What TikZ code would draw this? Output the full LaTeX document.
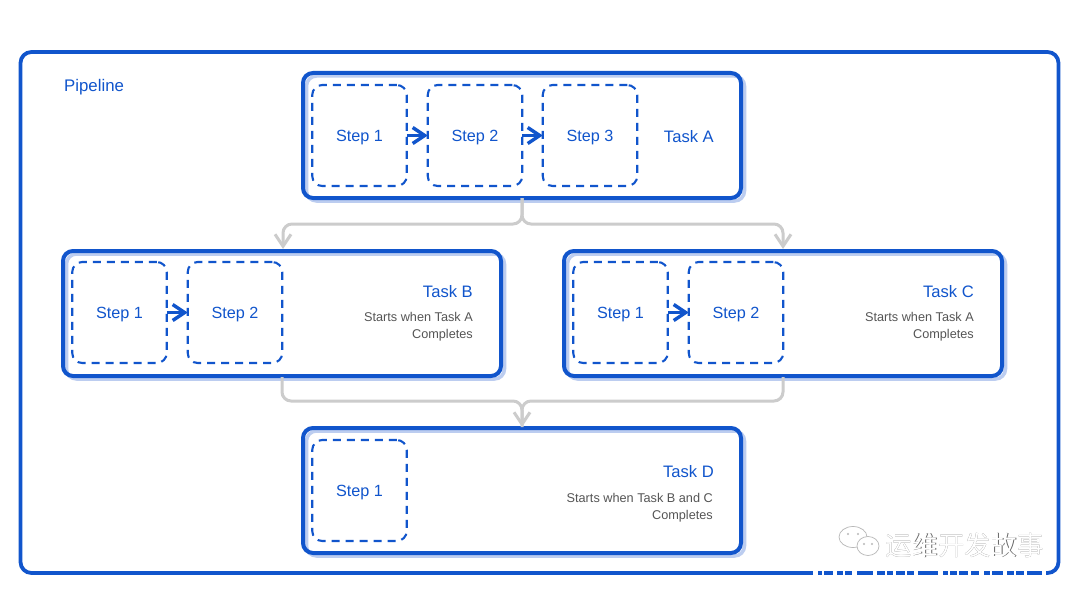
\documentclass[tikz,border=0pt]{standalone}
\usepackage{fontspec}
\setmainfont{Liberation Sans}
\newfontfamily\cjk{Noto Sans CJK SC}
\usetikzlibrary{arrows.meta,calc}
\definecolor{mainblue}{HTML}{1155CC}
\definecolor{softblue}{HTML}{BCCDF0}
\definecolor{linegray}{HTML}{CCCCCC}
\definecolor{smalltext}{HTML}{555555}
\tikzset{
  x=1pt,y=-1pt,
  taskbox/.style={draw=mainblue,line width=4pt,rounded corners=10pt,minimum width=438pt,minimum height=125pt,inner sep=0pt,outer sep=0pt},
  shadowbox/.style={draw=softblue,fill=white,line width=3.5pt,rounded corners=10pt,minimum width=438pt,minimum height=125pt,inner sep=0pt,outer sep=0pt},
  stepbox/.style={draw=mainblue,line width=2.1pt,dash pattern=on 8pt off 6pt,rounded corners=10pt,minimum width=94.5pt,minimum height=101pt,inner sep=0pt,outer sep=0pt,text=mainblue,font=\fontsize{16.2}{16}\selectfont,text height=12pt,text depth=0pt},
  steparrow/.style={draw=mainblue,line width=3.4pt,-{Straight Barb[length=12pt,width=16pt,line width=3.4pt]}},
  flow/.style={draw=linegray,line width=3pt,rounded corners=9pt,-{Straight Barb[length=12pt,width=16pt,line width=3pt]}},
  flowplain/.style={draw=linegray,line width=3pt,rounded corners=9pt},
  tasklabel/.style={text=mainblue,font=\fontsize{16.6}{16}\selectfont,inner sep=0pt},
  startnote/.style={text=smalltext,font=\fontsize{12.7}{17}\selectfont,align=right,inner sep=0pt},
}
\begin{document}
\begin{tikzpicture}
\useasboundingbox (0,0) rectangle (1080,594);
\fill[white] (0,0) rectangle (1080,594);
% pipeline frame
\node[draw=mainblue,line width=3.8pt,rounded corners=11pt,minimum width=1038pt,minimum height=521pt,inner sep=0pt] (pipeline) at (539.5,312.5) {};
\node[text=mainblue,font=\fontsize{16.8}{16}\selectfont,anchor=west,inner sep=0pt] (pipelabel) at (64,87) {Pipeline};
% task shadows
\node[shadowbox] (shA) at (525.5,138.5) {};
\node[shadowbox] (shB) at (285.5,316.5) {};
\node[shadowbox] (shC) at (786.5,316.5) {};
\node[shadowbox] (shD) at (525.5,493.5) {};
% task boxes
\node[taskbox] (taskA) at (522,135.5) {};
\node[taskbox] (taskB) at (282,313.5) {};
\node[taskbox] (taskC) at (783,313.5) {};
\node[taskbox] (taskD) at (522,490.5) {};
% steps
\node[stepbox] (a1) at (359.5,135.5) {Step 1};
\node[stepbox] (a2) at (475,135.5) {Step 2};
\node[stepbox] (a3) at (590,135.5) {Step 3};
\node[stepbox] (b1) at (119.5,312.5) {Step 1};
\node[stepbox] (b2) at (235,312.5) {Step 2};
\node[stepbox] (c1) at (620.5,312.5) {Step 1};
\node[stepbox] (c2) at (736,312.5) {Step 2};
\node[stepbox] (d1) at (359.5,490.5) {Step 1};
% step arrows
\draw[steparrow] (a1.east) -- (a2.west);
\draw[steparrow] (a2.east) -- (a3.west);
\draw[steparrow] (b1.east) -- (b2.west);
\draw[steparrow] (c1.east) -- (c2.west);
% labels
\node[tasklabel,anchor=east] (la) at (714,137) {Task A};
\node[tasklabel,anchor=east] (lb) at (473,292) {Task B};
\node[startnote,anchor=north east] (nb) at (473,312) {Starts when Task A\\Completes};
\node[tasklabel,anchor=east] (lc) at (974,292) {Task C};
\node[startnote,anchor=north east] (nc) at (974,312) {Starts when Task A\\Completes};
\node[tasklabel,anchor=east] (ld) at (714,472) {Task D};
\node[startnote,anchor=north east] (nd) at (713,493) {Starts when Task B and C\\Completes};
% connectors
\coordinate (splitA) at (522,224);
\coordinate (inB) at (283,249);
\coordinate (inC) at (783,249);
\coordinate (outB) at (282,377);
\coordinate (outC) at (783,377);
\coordinate (joinD) at (522,401);
\coordinate (inD) at (522,427);
\draw[flow] (taskA.south) -- (splitA) -- (283,224) -- (inB);
\draw[flow] (taskA.south) -- (splitA) -- (783,224) -- (inC);
\draw[flowplain] (outB) -- (282,401) -- (joinD) -- (inD);
\draw[flow] (outC) -- (783,401) -- (joinD) -- (inD);
% watermark
\begin{scope}[draw=black!28,fill=white,line width=.7pt]
  \filldraw (853,537) ellipse [x radius=14,y radius=10.5];
  \fill[black!28] (848,534) circle (1.1) (858,534) circle (1.1);
  \filldraw (868,546) ellipse [x radius=11,y radius=9.5];
  \fill[black!28] (864,544) circle (1.1) (872,544) circle (1.1);
\end{scope}
\node[text=black!60,font=\cjk\fontsize{26.4}{26.4}\selectfont,anchor=west,inner sep=0pt] (wm) at (885.5,545.5) {运维开发故事};
\node[text=white,font=\cjk\fontsize{26.4}{26.4}\selectfont,anchor=west,inner sep=0pt] (wmtop) at (885,545) {运维开发故事};
% white caption running over the frame's lower edge
\foreach \xa/\wa in {813/5,822/2,833/4,843/1.5,852/5,873/4,885/2,893/3,905/1.5,914/4,938/5,948/2,957/1.5,968/3,979/5,990/2,1003/4,1014/1.5,1024/3,1042/4}
  \fill[white] (\xa,570) rectangle +(\wa,6);
\end{tikzpicture}
\end{document}
